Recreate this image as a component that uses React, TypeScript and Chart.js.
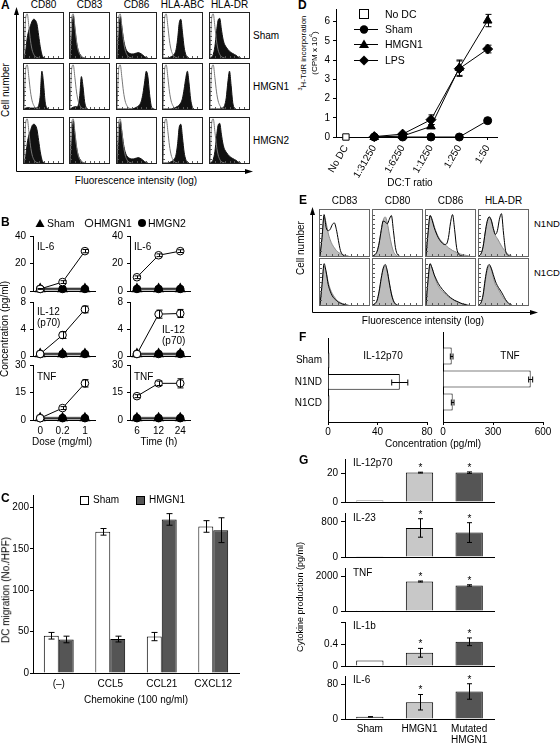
import React, { useEffect, useRef } from 'react';
import { Chart, registerables } from 'chart.js';

Chart.register(...registerables);

const FONT = '"Liberation Sans", Arial, Helvetica, sans-serif';
Chart.defaults.font.family = FONT;
Chart.defaults.font.size = 10;
Chart.defaults.color = '#000';

// ================= DATA =================
// Panel A: flow cytometry histograms (relative cell count per log-fluorescence bin)
const A_MARKERS = ['CD80', 'CD83', 'CD86', 'HLA-ABC', 'HLA-DR'];
const A_ROWS = ['Sham', 'HMGN1', 'HMGN2'];
const A_ISOTYPE = [0, 88, 98, 70, 38, 18, 8, 3, 1, 0];
const A_SHAM_CD80 = [0, 15, 45, 62, 72, 82, 86, 84, 75, 50, 25, 8, 1, 0];
const A_SHAM_CD83 = [0, 40, 94, 65, 35, 18, 9, 4, 1, 0];
const A_SHAM_CD86 = [0, 45, 92, 68, 42, 25, 16, 12, 10, 9, 9, 10, 11, 12, 11, 9, 6, 3, 1, 0];
const A_SHAM_ABC = [0, 0, 0, 0, 1, 3, 5, 9, 18, 42, 78, 86, 56, 24, 8, 2, 0];
const A_SHAM_DR = [0, 2, 8, 25, 58, 84, 88, 64, 42, 30, 24, 19, 15, 12, 10, 8, 6, 3, 1, 0];
const A_HMGN1_CD80 = [0, 2, 3, 3, 2, 2, 2, 2, 3, 8, 30, 84, 58, 16, 3, 0];
const A_HMGN1_CD83 = [0, 2, 4, 5, 5, 8, 30, 72, 50, 16, 3, 0];
const A_HMGN1_CD86 = [0, 0, 0, 0, 0, 0, 0, 0, 0, 0, 1, 2, 4, 6, 10, 18, 35, 60, 84, 72, 35, 8, 1, 0];
const A_HMGN1_ABC = [0, 0, 0, 0, 0, 0, 1, 2, 4, 6, 9, 14, 24, 44, 68, 84, 58, 22, 5, 0];
const A_HMGN1_DR = [0, 0, 0, 0, 0, 0, 0, 1, 3, 8, 25, 60, 84, 52, 14, 2, 0];
const A_HMGN2_CD80 = [0, 14, 44, 62, 72, 83, 86, 84, 74, 50, 25, 8, 1, 0];
const A_HMGN2_CD83 = [0, 40, 94, 64, 35, 18, 9, 4, 1, 0];
const A_HMGN2_CD86 = [0, 46, 92, 68, 42, 25, 16, 12, 10, 9, 9, 10, 11, 12, 11, 9, 6, 3, 1, 0];
const A_HMGN2_ABC = [0, 0, 0, 0, 1, 3, 5, 9, 18, 43, 80, 86, 56, 24, 8, 2, 0];
const A_HMGN2_DR = [0, 2, 8, 25, 58, 84, 88, 64, 42, 30, 24, 19, 15, 12, 10, 8, 6, 3, 1, 0];

// Panel B: cytokine concentration (pg/ml)
const B_DOSE_LABELS = ['0', '0.2', '1'];
const B_TIME_LABELS = ['6', '12', '24'];
const B_DOSE_IL6_SHAM = [1.5, 1.5, 1.5];
const B_DOSE_IL6_HMGN1 = [1.5, 6.5, 29];
const B_DOSE_IL6_HMGN1_ERR = [0.3, 1, 1.2];
const B_DOSE_IL6_HMGN2 = [1.5, 1.5, 1.5];
const B_DOSE_IL12_SHAM = [0.3, 0.3, 0.3];
const B_DOSE_IL12_HMGN1 = [0.3, 3.1, 6.9];
const B_DOSE_IL12_HMGN1_ERR = [0, 0.5, 0.5];
const B_DOSE_IL12_HMGN2 = [0.3, 0.3, 0.3];
const B_DOSE_TNF_SHAM = [1, 1, 1];
const B_DOSE_TNF_HMGN1 = [1, 6.5, 20];
const B_DOSE_TNF_HMGN1_ERR = [0, 0.8, 2];
const B_DOSE_TNF_HMGN2 = [1, 1, 1];
const B_TIME_IL6_SHAM = [1.5, 1.5, 1.5];
const B_TIME_IL6_HMGN1 = [10, 26, 29];
const B_TIME_IL6_HMGN1_ERR = [1, 1, 1];
const B_TIME_IL6_HMGN2 = [1.5, 1.5, 1.5];
const B_TIME_IL12_SHAM = [0.3, 0.3, 0.3];
const B_TIME_IL12_HMGN1 = [0.3, 6.2, 6.3];
const B_TIME_IL12_HMGN1_ERR = [0, 0.6, 0.6];
const B_TIME_IL12_HMGN2 = [0.3, 0.3, 0.3];
const B_TIME_TNF_SHAM = [1, 1, 1];
const B_TIME_TNF_HMGN1 = [13, 20, 20];
const B_TIME_TNF_HMGN1_ERR = [0.8, 1.2, 2.5];
const B_TIME_TNF_HMGN2 = [1, 1, 1];

// Panel C: DC migration (No./HPF)
const C_CATS = ['(–)', 'CCL5', 'CCL21', 'CXCL12'];
const C_SHAM = [45, 170.5, 44, 177];
const C_SHAM_ERR = [4, 4, 5, 7];
const C_HMGN1 = [40.5, 41, 185.5, 172.5];
const C_HMGN1_ERR = [4, 3.5, 7, 15];
const C_TICKS = [0, 50, 100, 150, 200];

// Panel D: 3H-TdR incorporation (CPM x 10^4)
const D_RATIOS = ['No DC', '1:31250', '1:6250', '1:1250', '1:250', '1:50'];
const D_NODC = [0, null, null, null, null, null];
const D_SHAM = [null, 0, 0, 0, 0, 0.85];
const D_SHAM_ERR = [0, 0, 0, 0, 0, 0.05];
const D_HMGN1 = [null, 0, 0.05, 0.55, 3.6, 6.05];
const D_HMGN1_ERR = [0, 0, 0, 0.1, 0.4, 0.32];
const D_LPS = [null, 0.02, 0.15, 0.9, 3.55, 4.57];
const D_LPS_ERR = [0, 0, 0.05, 0.25, 0.4, 0.2];
const D_TICKS = [0, 1, 2, 3, 4, 5, 6];

// Panel E: histograms (grey = control, black line = treated)
const E_MARKERS = ['CD83', 'CD80', 'CD86', 'HLA-DR'];
const E_ROWS = ['N1ND', 'N1CD'];
const E_CTRL_CD83 = [0, 40, 85, 72, 50, 35, 25, 18, 12, 8, 5, 3, 2, 1, 0];
const E_CTRL_CD80 = [0, 3, 10, 28, 55, 78, 85, 72, 48, 26, 10, 3, 0];
const E_CTRL_CD86 = [0, 50, 88, 80, 65, 52, 42, 35, 30, 26, 22, 18, 15, 12, 10, 8, 6, 4, 3, 2, 1, 0];
const E_CTRL_DR = [0, 5, 20, 50, 75, 85, 78, 60, 45, 38, 30, 22, 15, 10, 5, 2, 0];
const E_N1ND_CD83 = [0, 40, 90, 62, 55, 58, 68, 72, 58, 34, 12, 3, 0];
const E_N1ND_CD80 = [0, 3, 10, 28, 55, 76, 74, 70, 80, 88, 55, 18, 3, 0];
const E_N1ND_CD86 = [0, 50, 88, 78, 62, 50, 40, 33, 28, 25, 26, 40, 72, 90, 58, 18, 4, 1, 0];
const E_N1ND_DR = [0, 5, 20, 50, 75, 85, 78, 60, 47, 55, 80, 92, 50, 12, 2, 0];
const E_N1CD_CD83 = [0, 45, 90, 72, 45, 30, 20, 14, 10, 6, 4, 2, 1, 0];
const E_N1CD_CD80 = [0, 3, 10, 30, 58, 80, 88, 74, 48, 24, 9, 2, 0];
const E_N1CD_CD86 = [0, 55, 90, 80, 66, 56, 47, 40, 34, 29, 24, 20, 16, 13, 10, 8, 6, 4, 2, 1, 0];
const E_N1CD_DR = [0, 5, 22, 55, 80, 88, 80, 66, 52, 42, 35, 28, 20, 12, 6, 2, 0];

// Panel F: concentration (pg/ml)
const F_CATS = ['Sham', 'N1ND', 'N1CD'];
const F_IL12 = [1.2, 58, 1.2];
const F_IL12_ERR = [0, 6.5, 0];
const F_TNF = [52, 526, 58];
const F_TNF_ERR = [8, 12, 8];

// Panel G: cytokine production (pg/ml)
const G_CATS = ['Sham', 'HMGN1', ['Mutated', 'HMGN1']];
const G_STARS = [false, true, true];
const G_IL12 = [1, 20.5, 20.5];
const G_IL12_ERR = [0, 0.3, 0.5];
const G_IL23 = [15, 660, 555];
const G_IL23_ERR = [0, 210, 225];
const G_TNF = [10, 1714, 1486];
const G_TNF_ERR = [0, 30, 40];
const G_IL1B = [0.1, 0.24, 0.44];
const G_IL1B_ERR = [0, 0.08, 0.07];
const G_IL6 = [5, 39, 64];
const G_IL6_ERR = [0.5, 18, 18];

// ================= HELPERS =================
const BINS = Array.from({ length: 25 }, (_, i) => String(i));

const errorPlugin = {
  id: 'errbars',
  afterDatasetsDraw(chart: any) {
    const ctx = chart.ctx;
    const horiz = chart.options.indexAxis === 'y';
    chart.data.datasets.forEach((ds: any, di: number) => {
      const meta = chart.getDatasetMeta(di);
      const vScale = horiz ? chart.scales[meta.xAxisID] : chart.scales[meta.yAxisID];
      meta.data.forEach((el: any, i: number) => {
        const raw = ds.data[i];
        if (raw == null) return;
        const v = typeof raw === 'object' ? (horiz ? raw.x : raw.y) : raw;
        if (v == null) return;
        const e = ds.errors ? ds.errors[i] : 0;
        const cap = ds.errCap ?? 3;
        const c = Math.round(horiz ? el.y : el.x) + 0.5;
        ctx.save();
        ctx.strokeStyle = '#000';
        ctx.lineWidth = 1;
        if (e) {
          const a = vScale.getPixelForValue(v - e);
          const b = vScale.getPixelForValue(v + e);
          ctx.beginPath();
          if (horiz) {
            ctx.moveTo(a, c); ctx.lineTo(b, c);
            ctx.moveTo(a, c - cap); ctx.lineTo(a, c + cap);
            ctx.moveTo(b, c - cap); ctx.lineTo(b, c + cap);
          } else {
            ctx.moveTo(c, a); ctx.lineTo(c, b);
            ctx.moveTo(c - cap, a); ctx.lineTo(c + cap, a);
            ctx.moveTo(c - cap, b); ctx.lineTo(c + cap, b);
          }
          ctx.stroke();
        }
        if (ds.stars && ds.stars[i]) {
          const top = vScale.getPixelForValue(v + (e || 0));
          ctx.fillStyle = '#000';
          ctx.font = `10px ${FONT}`;
          ctx.textAlign = 'center';
          ctx.textBaseline = 'alphabetic';
          ctx.fillText('*', c, top - 1);
        }
        ctx.restore();
      });
    });
  },
};

// small inward tick marks along the left and bottom edges of the histogram frames
const frameTicksPlugin = {
  id: 'frameTicks',
  afterDraw(chart: any) {
    const { ctx, chartArea, scales } = chart;
    ctx.save();
    ctx.strokeStyle = '#555';
    ctx.lineWidth = 1;
    ctx.beginPath();
    for (let v = 10; v < 100; v += 10) {
      const y = Math.round(scales.y.getPixelForValue(v)) + 0.5;
      ctx.moveTo(chartArea.left, y);
      ctx.lineTo(chartArea.left + 2, y);
    }
    for (let i = 3; i < 24; i += 3) {
      const x = Math.round(scales.x.getPixelForValue(i)) + 0.5;
      ctx.moveTo(x, chartArea.bottom);
      ctx.lineTo(x, chartArea.bottom - 2);
    }
    ctx.stroke();
    ctx.restore();
  },
};

type Area = { l: number; t: number; r: number; b: number };
type Mar = { L: number; T: number; R: number; B: number };

function lin(o: any) {
  const tl = o.tl ?? 0;
  return {
    type: 'linear',
    min: o.min,
    max: o.max,
    offset: false,
    grace: 0,
    reverse: !!o.reverse,
    border: { display: true, color: '#000', width: 1 },
    grid: { display: tl > 0, offset: false, drawOnChartArea: false, drawTicks: tl > 0, tickLength: tl, color: '#000', lineWidth: 1 },
    ticks: {
      display: o.show !== false,
      color: '#000',
      padding: o.pad ?? 2,
      autoSkip: false,
      maxRotation: o.rot ?? 0,
      minRotation: o.rot ?? 0,
      font: { family: FONT, size: o.fs ?? 10 },
      callback: (v: number) => (o.fmt ? o.fmt(v) : String(v)),
    },
    afterDataLimits: (s: any) => {
      s.min = o.min;
      s.max = o.max;
    },
    afterBuildTicks: (s: any) => {
      s.ticks = o.ticks.map((v: number) => ({ value: v }));
      s.min = o.min;
      s.max = o.max;
    },
  };
}

function cat(o: any) {
  return {
    type: 'category',
    offset: true,
    border: { display: true, color: '#000', width: 1 },
    grid: { display: false, drawTicks: false, tickLength: 0 },
    ticks: {
      display: o.show !== false,
      color: '#000',
      padding: o.pad ?? 4,
      autoSkip: false,
      maxRotation: 0,
      minRotation: 0,
      font: { family: FONT, size: o.fs ?? 10, lineHeight: o.lh ?? 1.2 },
    },
  };
}

function ChartCanvas({ area, m, config }: { area: Area; m: Mar; config: any }) {
  const ref = useRef<HTMLCanvasElement>(null);
  const w = area.r - area.l + m.L + m.R;
  const h = area.b - area.t + m.T + m.B;
  useEffect(() => {
    const cfg = config;
    const opts = cfg.options || (cfg.options = {});
    opts.responsive = false;
    opts.maintainAspectRatio = false;
    opts.animation = false;
    opts.devicePixelRatio = 1;
    opts.events = [];
    opts.layout = { autoPadding: false, padding: { left: 0, top: m.T, right: m.R, bottom: 0 } };
    opts.plugins = { legend: { display: false }, tooltip: { enabled: false } };
    Object.keys(opts.scales || {}).forEach((id) => {
      const isX = id.startsWith('x');
      opts.scales[id].position = isX ? 'bottom' : 'left';
      opts.scales[id].afterFit = (sc: any) => {
        if (isX) sc.height = m.B;
        else sc.width = m.L;
      };
    });
    cfg.plugins = [errorPlugin];
    const chart = new Chart(ref.current as HTMLCanvasElement, cfg);
    return () => chart.destroy();
  }, []);
  return (
    <canvas
      ref={ref}
      width={w}
      height={h}
      style={{ position: 'absolute', left: area.l - m.L, top: area.t - m.T, width: w, height: h }}
    />
  );
}

type HSeries = { data: number[]; fill?: string; line: string; lw?: number };

function Hist({ x, y, w, h, border, series }: { x: number; y: number; w: number; h: number; border: string; series: HSeries[] }) {
  const ref = useRef<HTMLCanvasElement>(null);
  const cw = w - 2;
  const ch = h - 2;
  useEffect(() => {
    const chart = new Chart(ref.current as HTMLCanvasElement, {
      type: 'line',
      data: {
        labels: BINS,
        datasets: series.map((s) => ({
          data: s.data,
          borderColor: s.line,
          borderWidth: s.lw ?? 1,
          backgroundColor: s.fill ?? 'rgba(0,0,0,0)',
          fill: s.fill ? 'origin' : false,
          pointRadius: 0,
          cubicInterpolationMode: 'monotone',
        })),
      } as any,
      options: {
        responsive: false,
        animation: false,
        devicePixelRatio: 1,
        events: [],
        layout: { autoPadding: false, padding: 0 },
        scales: {
          x: { type: 'category', display: false, offset: false },
          y: { min: 0, max: 100, display: false },
        },
        plugins: { legend: { display: false }, tooltip: { enabled: false } },
      } as any,
      plugins: [frameTicksPlugin],
    });
    return () => chart.destroy();
  }, []);
  return (
    <div style={{ position: 'absolute', left: x, top: y, width: w, height: h, border: `1px solid ${border}`, boxSizing: 'border-box', background: '#fff' }}>
      <canvas ref={ref} width={cw} height={ch} style={{ display: 'block', width: cw, height: ch }} />
    </div>
  );
}

function T({ x, y, children, size = 10, align = 'center', bold = false, rot = false }: any) {
  const tx = align === 'center' ? '-50%' : align === 'right' ? '-100%' : '0';
  return (
    <div
      style={{
        position: 'absolute',
        left: x,
        top: y,
        transform: rot ? 'translate(-50%,-50%) rotate(-90deg)' : `translate(${tx},-50%)`,
        fontSize: size,
        fontFamily: FONT,
        fontWeight: bold ? 'bold' : 'normal',
        whiteSpace: 'nowrap',
        lineHeight: 1.15,
        color: '#000',
      }}
    >
      {children}
    </div>
  );
}

const pts = (arr: (number | null)[]) => arr.map((v, i) => ({ x: i, y: v }));

function bConfig(labels: string[], sham: number[], hmgn1: number[], err: number[], hmgn2: number[], max: number, ticks: number[], showX: boolean) {
  return {
    type: 'line',
    data: {
      datasets: [
        { data: pts(hmgn1), errors: err, borderColor: '#000', borderWidth: 1, pointStyle: 'circle', pointRadius: 3.8, pointBackgroundColor: '#fff', pointBorderColor: '#000', pointBorderWidth: 1, clip: false, tension: 0 },
        { data: pts(hmgn2), borderColor: '#000', borderWidth: 1, pointStyle: 'circle', pointRadius: 3.8, pointBackgroundColor: '#000', pointBorderColor: '#000', clip: false, tension: 0 },
        { data: pts(sham), borderColor: '#8a8a8a', borderWidth: 3, pointStyle: 'triangle', pointRadius: 3.4, pointBackgroundColor: '#000', pointBorderColor: '#000', clip: false, tension: 0 },
      ],
    },
    options: {
      scales: {
        x: lin({ min: -0.32, max: 2.45, ticks: [0, 1, 2], show: showX, fmt: (v: number) => labels[v], pad: 5, fs: 10 }),
        y: lin({ min: 0, max, ticks, tl: 3, pad: 4, fs: 10 }),
      },
    },
  };
}

function gConfig(vals: number[], err: number[], max: number, ticks: number[], fmt: (v: number) => string, showX: boolean) {
  return {
    type: 'bar',
    data: {
      labels: G_CATS,
      datasets: [
        {
          data: vals,
          errors: err,
          stars: G_STARS,
          errCap: 2.5,
          backgroundColor: ['#ffffff', '#c8c8c8', '#555555'],
          borderColor: '#000',
          borderWidth: 1,
          barPercentage: 0.55,
          categoryPercentage: 1,
        },
      ],
    },
    options: {
      scales: {
        x: cat({ show: showX, pad: 5, lh: 1.1 }),
        y: lin({ min: 0, max, ticks, tl: 4, pad: 3, fmt }),
      },
    },
  };
}

function fConfig(vals: number[], err: number[], max: number, ticks: number[], showY: boolean) {
  return {
    type: 'bar',
    data: {
      datasets: [
        { data: vals.map((v, i) => ({ x: v, y: i })), errors: err, errCap: 3, backgroundColor: '#fff', borderColor: '#000', borderWidth: 1, barPercentage: 0.74, categoryPercentage: 1 },
      ],
    },
    options: {
      indexAxis: 'y',
      scales: {
        x: lin({ min: 0, max, ticks, tl: 3, pad: 1 }),
        y: lin({ min: -1.04, max: 2.87, reverse: true, ticks: [0, 1, 2], fmt: (v: number) => F_CATS[v], pad: 6, show: showY }),
      },
    },
  };
}

// ================= LAYOUT =================
const A_COL_X = [23, 69, 116, 162, 209];
const A_ROW_Y = [12, 63, 117];
const A_BOX_H = 47;
const A_BOX_W = 41;
const E_COL_X = [319, 372, 425, 478];
const E_ROW_Y = [209, 258];

export default function App() {
  const aData = [
    [A_SHAM_CD80, A_SHAM_CD83, A_SHAM_CD86, A_SHAM_ABC, A_SHAM_DR],
    [A_HMGN1_CD80, A_HMGN1_CD83, A_HMGN1_CD86, A_HMGN1_ABC, A_HMGN1_DR],
    [A_HMGN2_CD80, A_HMGN2_CD83, A_HMGN2_CD86, A_HMGN2_ABC, A_HMGN2_DR],
  ];
  const eCtrl = [E_CTRL_CD83, E_CTRL_CD80, E_CTRL_CD86, E_CTRL_DR];
  const eTreated = [
    [E_N1ND_CD83, E_N1ND_CD80, E_N1ND_CD86, E_N1ND_DR],
    [E_N1CD_CD83, E_N1CD_CD80, E_N1CD_CD86, E_N1CD_DR],
  ];

  const bM = { L: 32, T: 10, R: 10, B: 10 };
  const bMb = { L: 32, T: 10, R: 10, B: 22 };
  const gM = { L: 36, T: 8, R: 6, B: 8 };

  return (
    <div style={{ position: 'absolute', left: 0, top: 0, width: 560, height: 744, background: '#fff', overflow: 'hidden', fontFamily: FONT }}>
      {/* ---------- Panel A ---------- */}
      {A_ROWS.map((row, ri) =>
        A_MARKERS.map((mk, ci) => (
          <Hist
            key={`a-${row}-${mk}`}
            x={A_COL_X[ci]}
            y={A_ROW_Y[ri]}
            w={A_BOX_W}
            h={A_BOX_H}
            border="#222"
            series={[
              { data: A_ISOTYPE, line: '#777' },
              { data: aData[ri][ci], fill: '#111', line: '#111' },
            ]}
          />
        ))
      )}
      <T x={1} y={6} bold size={12} align="left">A</T>
      {A_MARKERS.map((mk, ci) => (
        <T key={`at-${mk}`} x={A_COL_X[ci] + A_BOX_W / 2} y={5}>{mk}</T>
      ))}
      {A_ROWS.map((row, ri) => (
        <T key={`ar-${row}`} x={253} y={A_ROW_Y[ri] + 24} align="left">{row}</T>
      ))}
      <T x={6} y={90} rot>Cell number</T>
      <T x={136} y={181}>Fluorescence intensity (log)</T>

      {/* ---------- Panel B ---------- */}
      <ChartCanvas area={{ l: 33, r: 95, t: 236, b: 291 }} m={bM} config={bConfig(B_DOSE_LABELS, B_DOSE_IL6_SHAM, B_DOSE_IL6_HMGN1, B_DOSE_IL6_HMGN1_ERR, B_DOSE_IL6_HMGN2, 40, [0, 20, 40], false)} />
      <ChartCanvas area={{ l: 33, r: 95, t: 302, b: 356 }} m={bM} config={bConfig(B_DOSE_LABELS, B_DOSE_IL12_SHAM, B_DOSE_IL12_HMGN1, B_DOSE_IL12_HMGN1_ERR, B_DOSE_IL12_HMGN2, 8, [0, 4, 8], false)} />
      <ChartCanvas area={{ l: 33, r: 95, t: 365, b: 420 }} m={bMb} config={bConfig(B_DOSE_LABELS, B_DOSE_TNF_SHAM, B_DOSE_TNF_HMGN1, B_DOSE_TNF_HMGN1_ERR, B_DOSE_TNF_HMGN2, 30, [0, 15, 30], true)} />
      <ChartCanvas area={{ l: 130, r: 190, t: 236, b: 291 }} m={bM} config={bConfig(B_TIME_LABELS, B_TIME_IL6_SHAM, B_TIME_IL6_HMGN1, B_TIME_IL6_HMGN1_ERR, B_TIME_IL6_HMGN2, 40, [0, 20, 40], false)} />
      <ChartCanvas area={{ l: 130, r: 190, t: 302, b: 356 }} m={bM} config={bConfig(B_TIME_LABELS, B_TIME_IL12_SHAM, B_TIME_IL12_HMGN1, B_TIME_IL12_HMGN1_ERR, B_TIME_IL12_HMGN2, 8, [0, 4, 8], false)} />
      <ChartCanvas area={{ l: 130, r: 190, t: 365, b: 420 }} m={bMb} config={bConfig(B_TIME_LABELS, B_TIME_TNF_SHAM, B_TIME_TNF_HMGN1, B_TIME_TNF_HMGN1_ERR, B_TIME_TNF_HMGN2, 30, [0, 15, 30], true)} />
      <T x={1} y={223} bold size={12} align="left">B</T>
      <T x={47} y={223} align="left" size={10.5}>Sham</T>
      <T x={94} y={223} align="left" size={10.5}>HMGN1</T>
      <T x={148} y={223} align="left" size={10.5}>HMGN2</T>
      <T x={37} y={247} align="left">IL-6</T>
      <T x={134} y={247} align="left">IL-6</T>
      <T x={37} y={312} align="left">IL-12</T>
      <T x={37} y={323} align="left">(p70)</T>
      <T x={162} y={330} align="left">IL-12</T>
      <T x={162} y={341} align="left">(p70)</T>
      <T x={37} y={377} align="left">TNF</T>
      <T x={134} y={377} align="left">TNF</T>
      <T x={5} y={329} rot>Concentration (pg/ml)</T>
      <T x={62} y={442}>Dose (mg/ml)</T>
      <T x={159} y={442}>Time (h)</T>

      {/* ---------- Panel C ---------- */}
      <ChartCanvas
        area={{ l: 33, r: 239, t: 495, b: 673 }}
        m={{ L: 26, T: 10, R: 10, B: 22 }}
        config={{
          type: 'bar',
          data: {
            labels: C_CATS,
            datasets: [
              { data: C_SHAM, errors: C_SHAM_ERR, backgroundColor: '#fff', borderColor: '#000', borderWidth: 1, barPercentage: 1, categoryPercentage: 0.58 },
              { data: C_HMGN1, errors: C_HMGN1_ERR, backgroundColor: '#555', borderColor: '#000', borderWidth: 1, barPercentage: 1, categoryPercentage: 0.58 },
            ],
          },
          options: {
            scales: {
              x: cat({ pad: 5 }),
              y: lin({ min: 0, max: 215, ticks: C_TICKS, tl: 3, pad: 1 }),
            },
          },
        }}
      />
      <T x={1} y={499} bold size={12} align="left">C</T>
      <div style={{ position: 'absolute', left: 80, top: 496, width: 9, height: 9, border: '1px solid #000', boxSizing: 'border-box', background: '#fff' }} />
      <T x={93} y={500} align="left">Sham</T>
      <div style={{ position: 'absolute', left: 136, top: 496, width: 9, height: 9, border: '1px solid #000', boxSizing: 'border-box', background: '#555' }} />
      <T x={149} y={500} align="left">HMGN1</T>
      <T x={6} y={590} rot>DC migration (No./HPF)</T>
      <T x={136} y={700}>Chemokine (100 ng/ml)</T>

      {/* ---------- Panel D ---------- */}
      <ChartCanvas
        area={{ l: 336, r: 497, t: 1, b: 137 }}
        m={{ L: 20, T: 1, R: 12, B: 50 }}
        config={{
          type: 'line',
          data: {
            datasets: [
              { data: pts(D_NODC), borderColor: '#000', borderWidth: 1, pointStyle: 'rect', pointRadius: 4.5, pointBackgroundColor: '#fff', pointBorderColor: '#000', pointBorderWidth: 1, clip: false },
              { data: pts(D_SHAM), errors: D_SHAM_ERR, borderColor: '#000', borderWidth: 1, pointStyle: 'circle', pointRadius: 4, pointBackgroundColor: '#000', pointBorderColor: '#000', clip: false, tension: 0 },
              { data: pts(D_HMGN1), errors: D_HMGN1_ERR, borderColor: '#000', borderWidth: 1, pointStyle: 'triangle', pointRadius: 5, pointBackgroundColor: '#000', pointBorderColor: '#000', clip: false, tension: 0 },
              { data: pts(D_LPS), errors: D_LPS_ERR, borderColor: '#000', borderWidth: 1, pointStyle: 'rectRot', pointRadius: 5, pointBackgroundColor: '#000', pointBorderColor: '#000', clip: false, tension: 0 },
            ],
          },
          options: {
            scales: {
              x: lin({ min: -0.35, max: 5.33, ticks: [0, 1, 2, 3, 4, 5], fmt: (v: number) => D_RATIOS[v], rot: 60, tl: 3, pad: 3 }),
              y: lin({ min: 0, max: 6.65, ticks: D_TICKS, tl: 3, pad: 3 }),
            },
          },
        }}
      />
      <T x={298} y={6} bold size={12} align="left">D</T>
      <T x={302} y={53} rot size={8}><span><sup style={{ fontSize: 5.5 }}>3</sup>H-TdR incorporation</span></T>
      <T x={313} y={53} rot size={8}><span>(CPM x 10<sup style={{ fontSize: 5.5 }}>4</sup>)</span></T>
      <T x={410} y={183}>DC:T ratio</T>
      <T x={385} y={14} align="left" size={10.5}>No DC</T>
      <T x={385} y={29} align="left" size={10.5}>Sham</T>
      <T x={385} y={44} align="left" size={10.5}>HMGN1</T>
      <T x={385} y={60} align="left" size={10.5}>LPS</T>

      {/* ---------- Panel E ---------- */}
      {E_ROWS.map((row, ri) =>
        E_MARKERS.map((mk, ci) => (
          <Hist
            key={`e-${row}-${mk}`}
            x={E_COL_X[ci]}
            y={E_ROW_Y[ri]}
            w={51}
            h={48}
            border="#666"
            series={[
              { data: eTreated[ri][ci], line: '#000' },
              { data: eCtrl[ci], fill: '#bdbdbd', line: '#8a8a8a' },
            ]}
          />
        ))
      )}
      <T x={299} y={201} bold size={12} align="left">E</T>
      {E_MARKERS.map((mk, ci) => (
        <T key={`et-${mk}`} x={E_COL_X[ci] + 25.5} y={201}>{mk}</T>
      ))}
      {E_ROWS.map((row, ri) => (
        <T key={`er-${row}`} x={534} y={E_ROW_Y[ri] + 15} align="left" size={9.5}>{row}</T>
      ))}
      <T x={301} y={248} rot>Cell number</T>
      <T x={423} y={321}>Fluorescence intensity (log)</T>

      {/* ---------- Panel F ---------- */}
      <ChartCanvas area={{ l: 328, r: 427, t: 332, b: 422 }} m={{ L: 36, T: 6, R: 12, B: 18 }} config={fConfig(F_IL12, F_IL12_ERR, 80, [0, 40, 80], true)} />
      <ChartCanvas area={{ l: 443, r: 543, t: 332, b: 422 }} m={{ L: 6, T: 6, R: 14, B: 18 }} config={fConfig(F_TNF, F_TNF_ERR, 600, [0, 300, 600], false)} />
      <T x={299} y={338} bold size={12} align="left">F</T>
      <T x={383} y={356}>IL-12p70</T>
      <T x={510} y={356}>TNF</T>
      <T x={433} y={444}>Concentration (pg/ml)</T>

      {/* ---------- Panel G ---------- */}
      <ChartCanvas area={{ l: 345, r: 494, t: 458, b: 503 }} m={gM} config={gConfig(G_IL12, G_IL12_ERR, 30, [0, 20], (v) => String(v), false)} />
      <ChartCanvas area={{ l: 345, r: 494, t: 512, b: 558 }} m={gM} config={gConfig(G_IL23, G_IL23_ERR, 1000, [0, 800], (v) => String(v), false)} />
      <ChartCanvas area={{ l: 345, r: 494, t: 567, b: 612 }} m={gM} config={gConfig(G_TNF, G_TNF_ERR, 2500, [0, 2000], (v) => String(v), false)} />
      <ChartCanvas area={{ l: 345, r: 494, t: 621, b: 667 }} m={gM} config={gConfig(G_IL1B, G_IL1B_ERR, 0.8, [0, 0.4, 0.8], (v) => (v === 0.8 ? '' : String(v)), false)} />
      <ChartCanvas area={{ l: 345, r: 494, t: 675, b: 719 }} m={{ L: 36, T: 8, R: 6, B: 25 }} config={gConfig(G_IL6, G_IL6_ERR, 100, [0, 80], (v) => String(v), true)} />
      <T x={299} y={461} bold size={12} align="left">G</T>
      <T x={353} y={463} align="left">IL-12p70</T>
      <T x={353} y={518} align="left">IL-23</T>
      <T x={353} y={573} align="left">TNF</T>
      <T x={353} y={626} align="left">IL-1b</T>
      <T x={353} y={680} align="left">IL-6</T>
      <T x={300} y={597} rot size={9}>Cytokine production (pg/ml)</T>

      {/* ---------- Arrows and legend symbols ---------- */}
      <svg width={560} height={744} style={{ position: 'absolute', left: 0, top: 0, pointerEvents: 'none' }}>
        <line x1={16.5} y1={171.5} x2={16.5} y2={13} stroke="#000" strokeWidth={1} />
        <polygon points="16.5,7 14,15 19,15" fill="#000" />
        <line x1={16.5} y1={171.5} x2={247} y2={171.5} stroke="#000" strokeWidth={1} />
        <polygon points="253,171.5 245,169 245,174" fill="#000" />
        <line x1={312.5} y1={312.5} x2={312.5} y2={212} stroke="#000" strokeWidth={1} />
        <polygon points="312.5,207 310,215 315,215" fill="#000" />
        <line x1={312.5} y1={312.5} x2={532} y2={312.5} stroke="#000" strokeWidth={1} />
        <polygon points="538,312.5 530,310 530,315" fill="#000" />
        <polygon points="40,219 35.5,227 44.5,227" fill="#000" />
        <circle cx={89} cy={223} r={3.8} fill="#fff" stroke="#000" strokeWidth={1} />
        <circle cx={142} cy={223} r={4} fill="#000" />
        <rect x={359.5} y={9.5} width={9} height={9} fill="#fff" stroke="#000" strokeWidth={1} />
        <line x1={354} y1={29.5} x2={378} y2={29.5} stroke="#000" strokeWidth={1} />
        <circle cx={364} cy={29.5} r={4.2} fill="#000" />
        <line x1={354} y1={44.5} x2={378} y2={44.5} stroke="#000" strokeWidth={1} />
        <polygon points="364,39.5 359,48 369,48" fill="#000" />
        <line x1={354} y1={60.5} x2={378} y2={60.5} stroke="#000" strokeWidth={1} />
        <polygon points="364,55.5 369,60.5 364,65.5 359,60.5" fill="#000" />
      </svg>
    </div>
  );
}
